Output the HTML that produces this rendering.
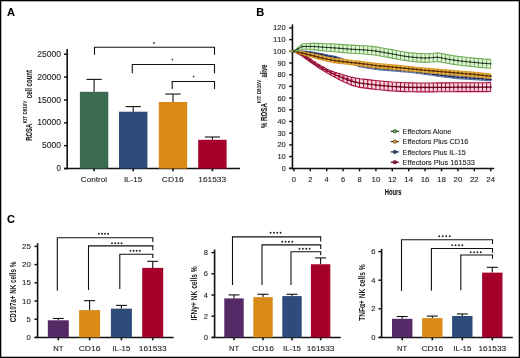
<!DOCTYPE html>
<html><head><meta charset="utf-8"><style>
html,body{margin:0;padding:0;background:#fff;}
svg{display:block;font-family:"Liberation Sans", sans-serif;will-change:transform;}
</style></head><body>
<svg width="520" height="358" viewBox="0 0 520 358">
<rect width="520" height="358" fill="#fff"/>
<text x="7.00" y="16.00" font-size="11" text-anchor="start" fill="#000" font-weight="bold" stroke="#000" stroke-width="0.1">A</text>
<line x1="67.20" y1="49.00" x2="67.20" y2="169.30" stroke="#111" stroke-width="1.6"/>
<line x1="64.00" y1="168.55" x2="240.00" y2="168.55" stroke="#111" stroke-width="1.6"/>
<line x1="64.00" y1="168.55" x2="67.20" y2="168.55" stroke="#111" stroke-width="1.45"/>
<text x="56.55" y="171.20" font-size="8.2" text-anchor="start" fill="#222" font-weight="normal" stroke="#222" stroke-width="0.1" textLength="4.45" lengthAdjust="spacingAndGlyphs">0</text>
<line x1="64.00" y1="145.68" x2="67.20" y2="145.68" stroke="#111" stroke-width="1.45"/>
<text x="42.00" y="148.33" font-size="8.2" text-anchor="start" fill="#222" font-weight="normal" stroke="#222" stroke-width="0.1" textLength="19.00" lengthAdjust="spacingAndGlyphs">5000</text>
<line x1="64.00" y1="122.81" x2="67.20" y2="122.81" stroke="#111" stroke-width="1.45"/>
<text x="37.15" y="125.46" font-size="8.2" text-anchor="start" fill="#222" font-weight="normal" stroke="#222" stroke-width="0.1" textLength="23.85" lengthAdjust="spacingAndGlyphs">10000</text>
<line x1="64.00" y1="99.94" x2="67.20" y2="99.94" stroke="#111" stroke-width="1.45"/>
<text x="37.15" y="102.59" font-size="8.2" text-anchor="start" fill="#222" font-weight="normal" stroke="#222" stroke-width="0.1" textLength="23.85" lengthAdjust="spacingAndGlyphs">15000</text>
<line x1="64.00" y1="77.07" x2="67.20" y2="77.07" stroke="#111" stroke-width="1.45"/>
<text x="37.15" y="79.72" font-size="8.2" text-anchor="start" fill="#222" font-weight="normal" stroke="#222" stroke-width="0.1" textLength="23.85" lengthAdjust="spacingAndGlyphs">20000</text>
<line x1="64.00" y1="54.20" x2="67.20" y2="54.20" stroke="#111" stroke-width="1.45"/>
<text x="37.15" y="56.85" font-size="8.2" text-anchor="start" fill="#222" font-weight="normal" stroke="#222" stroke-width="0.1" textLength="23.85" lengthAdjust="spacingAndGlyphs">25000</text>
<line x1="94.10" y1="91.80" x2="94.10" y2="79.40" stroke="#111" stroke-width="1.1"/>
<line x1="86.50" y1="79.40" x2="101.70" y2="79.40" stroke="#111" stroke-width="1.1"/>
<rect x="79.90" y="91.80" width="28.40" height="76.75" fill="#3a6a52"/>
<line x1="94.10" y1="168.50" x2="94.10" y2="171.20" stroke="#111" stroke-width="1.6"/>
<text x="80.75" y="182.20" font-size="8.0" text-anchor="start" fill="#222" font-weight="normal" stroke="#222" stroke-width="0.1" textLength="26.30" lengthAdjust="spacingAndGlyphs">Control</text>
<line x1="133.20" y1="111.70" x2="133.20" y2="106.60" stroke="#111" stroke-width="1.1"/>
<line x1="125.60" y1="106.60" x2="140.80" y2="106.60" stroke="#111" stroke-width="1.1"/>
<rect x="119.00" y="111.70" width="28.40" height="56.85" fill="#2e4c7a"/>
<line x1="133.20" y1="168.50" x2="133.20" y2="171.20" stroke="#111" stroke-width="1.6"/>
<text x="123.90" y="182.20" font-size="8.0" text-anchor="start" fill="#222" font-weight="normal" stroke="#222" stroke-width="0.1" textLength="18.20" lengthAdjust="spacingAndGlyphs">IL-15</text>
<line x1="173.00" y1="102.00" x2="173.00" y2="94.05" stroke="#111" stroke-width="1.1"/>
<line x1="165.40" y1="94.05" x2="180.60" y2="94.05" stroke="#111" stroke-width="1.1"/>
<rect x="158.80" y="102.00" width="28.40" height="66.55" fill="#da8a17"/>
<line x1="173.00" y1="168.50" x2="173.00" y2="171.20" stroke="#111" stroke-width="1.6"/>
<text x="161.85" y="182.20" font-size="8.0" text-anchor="start" fill="#222" font-weight="normal" stroke="#222" stroke-width="0.1" textLength="21.90" lengthAdjust="spacingAndGlyphs">CD16</text>
<line x1="212.40" y1="139.80" x2="212.40" y2="137.00" stroke="#111" stroke-width="1.1"/>
<line x1="204.80" y1="137.00" x2="220.00" y2="137.00" stroke="#111" stroke-width="1.1"/>
<rect x="198.20" y="139.80" width="28.40" height="28.75" fill="#a5002a"/>
<line x1="212.40" y1="168.50" x2="212.40" y2="171.20" stroke="#111" stroke-width="1.6"/>
<text x="198.35" y="182.20" font-size="8.0" text-anchor="start" fill="#222" font-weight="normal" stroke="#222" stroke-width="0.1" textLength="27.70" lengthAdjust="spacingAndGlyphs">161533</text>
<path d="M94.5 54.8V47.3H214.5V54.8" stroke="#111" stroke-width="1.1" fill="none"/>
<path d="M132.3 73.2V64.5H214.5V73.2" stroke="#111" stroke-width="1.1" fill="none"/>
<path d="M172.2 88.9V81.5H214.5V88.9" stroke="#111" stroke-width="1.1" fill="none"/>
<circle cx="153.9" cy="42.9" r="0.85" fill="#222"/>
<circle cx="172.4" cy="59.5" r="0.85" fill="#222"/>
<circle cx="193.6" cy="76.5" r="0.85" fill="#222"/>
<g transform="translate(31.8,140.8) rotate(-90)"><text x="0" y="0" font-size="9.5" fill="#1a1a1a" font-weight="bold" stroke="#1a1a1a" stroke-width="0.12" textLength="17.0" lengthAdjust="spacingAndGlyphs">ROSA</text><text x="17.6" y="-4.9" font-size="5.9" fill="#222" font-weight="bold" textLength="22.5" lengthAdjust="spacingAndGlyphs">KIT D816V</text><text x="42.6" y="0" font-size="9.2" fill="#1a1a1a" font-weight="bold" stroke="#1a1a1a" stroke-width="0.12" textLength="28.3" lengthAdjust="spacingAndGlyphs">cell count</text></g>
<text x="256.30" y="16.00" font-size="11" text-anchor="start" fill="#000" font-weight="bold" stroke="#000" stroke-width="0.1">B</text>
<line x1="292.45" y1="24.40" x2="292.45" y2="169.20" stroke="#111" stroke-width="1.6"/>
<line x1="289.20" y1="168.45" x2="494.20" y2="168.45" stroke="#111" stroke-width="1.6"/>
<line x1="289.20" y1="168.30" x2="292.45" y2="168.30" stroke="#111" stroke-width="1.45"/>
<text x="281.70" y="170.85" font-size="7.2" text-anchor="start" fill="#222" font-weight="normal" stroke="#222" stroke-width="0.1" textLength="4.00" lengthAdjust="spacingAndGlyphs">0</text>
<line x1="289.20" y1="156.60" x2="292.45" y2="156.60" stroke="#111" stroke-width="1.45"/>
<text x="277.40" y="159.15" font-size="7.2" text-anchor="start" fill="#222" font-weight="normal" stroke="#222" stroke-width="0.1" textLength="8.30" lengthAdjust="spacingAndGlyphs">10</text>
<line x1="289.20" y1="144.90" x2="292.45" y2="144.90" stroke="#111" stroke-width="1.45"/>
<text x="277.40" y="147.45" font-size="7.2" text-anchor="start" fill="#222" font-weight="normal" stroke="#222" stroke-width="0.1" textLength="8.30" lengthAdjust="spacingAndGlyphs">20</text>
<line x1="289.20" y1="133.20" x2="292.45" y2="133.20" stroke="#111" stroke-width="1.45"/>
<text x="277.40" y="135.75" font-size="7.2" text-anchor="start" fill="#222" font-weight="normal" stroke="#222" stroke-width="0.1" textLength="8.30" lengthAdjust="spacingAndGlyphs">30</text>
<line x1="289.20" y1="121.50" x2="292.45" y2="121.50" stroke="#111" stroke-width="1.45"/>
<text x="277.40" y="124.05" font-size="7.2" text-anchor="start" fill="#222" font-weight="normal" stroke="#222" stroke-width="0.1" textLength="8.30" lengthAdjust="spacingAndGlyphs">40</text>
<line x1="289.20" y1="109.80" x2="292.45" y2="109.80" stroke="#111" stroke-width="1.45"/>
<text x="277.40" y="112.35" font-size="7.2" text-anchor="start" fill="#222" font-weight="normal" stroke="#222" stroke-width="0.1" textLength="8.30" lengthAdjust="spacingAndGlyphs">50</text>
<line x1="289.20" y1="98.10" x2="292.45" y2="98.10" stroke="#111" stroke-width="1.45"/>
<text x="277.40" y="100.65" font-size="7.2" text-anchor="start" fill="#222" font-weight="normal" stroke="#222" stroke-width="0.1" textLength="8.30" lengthAdjust="spacingAndGlyphs">60</text>
<line x1="289.20" y1="86.40" x2="292.45" y2="86.40" stroke="#111" stroke-width="1.45"/>
<text x="277.40" y="88.95" font-size="7.2" text-anchor="start" fill="#222" font-weight="normal" stroke="#222" stroke-width="0.1" textLength="8.30" lengthAdjust="spacingAndGlyphs">70</text>
<line x1="289.20" y1="74.70" x2="292.45" y2="74.70" stroke="#111" stroke-width="1.45"/>
<text x="277.40" y="77.25" font-size="7.2" text-anchor="start" fill="#222" font-weight="normal" stroke="#222" stroke-width="0.1" textLength="8.30" lengthAdjust="spacingAndGlyphs">80</text>
<line x1="289.20" y1="63.00" x2="292.45" y2="63.00" stroke="#111" stroke-width="1.45"/>
<text x="277.40" y="65.55" font-size="7.2" text-anchor="start" fill="#222" font-weight="normal" stroke="#222" stroke-width="0.1" textLength="8.30" lengthAdjust="spacingAndGlyphs">90</text>
<line x1="289.20" y1="51.30" x2="292.45" y2="51.30" stroke="#111" stroke-width="1.45"/>
<text x="273.10" y="53.85" font-size="7.2" text-anchor="start" fill="#222" font-weight="normal" stroke="#222" stroke-width="0.1" textLength="12.60" lengthAdjust="spacingAndGlyphs">100</text>
<line x1="289.20" y1="39.60" x2="292.45" y2="39.60" stroke="#111" stroke-width="1.45"/>
<text x="273.10" y="42.15" font-size="7.2" text-anchor="start" fill="#222" font-weight="normal" stroke="#222" stroke-width="0.1" textLength="12.60" lengthAdjust="spacingAndGlyphs">110</text>
<line x1="289.20" y1="27.90" x2="292.45" y2="27.90" stroke="#111" stroke-width="1.45"/>
<text x="273.10" y="30.45" font-size="7.2" text-anchor="start" fill="#222" font-weight="normal" stroke="#222" stroke-width="0.1" textLength="12.60" lengthAdjust="spacingAndGlyphs">120</text>
<line x1="293.90" y1="168.45" x2="293.90" y2="171.30" stroke="#111" stroke-width="1.45"/>
<text x="291.80" y="181.80" font-size="7.6" text-anchor="start" fill="#222" font-weight="normal" stroke="#222" stroke-width="0.1" textLength="4.20" lengthAdjust="spacingAndGlyphs">0</text>
<line x1="310.30" y1="168.45" x2="310.30" y2="171.30" stroke="#111" stroke-width="1.45"/>
<text x="308.20" y="181.80" font-size="7.6" text-anchor="start" fill="#222" font-weight="normal" stroke="#222" stroke-width="0.1" textLength="4.20" lengthAdjust="spacingAndGlyphs">2</text>
<line x1="326.70" y1="168.45" x2="326.70" y2="171.30" stroke="#111" stroke-width="1.45"/>
<text x="324.60" y="181.80" font-size="7.6" text-anchor="start" fill="#222" font-weight="normal" stroke="#222" stroke-width="0.1" textLength="4.20" lengthAdjust="spacingAndGlyphs">4</text>
<line x1="343.10" y1="168.45" x2="343.10" y2="171.30" stroke="#111" stroke-width="1.45"/>
<text x="341.00" y="181.80" font-size="7.6" text-anchor="start" fill="#222" font-weight="normal" stroke="#222" stroke-width="0.1" textLength="4.20" lengthAdjust="spacingAndGlyphs">6</text>
<line x1="359.50" y1="168.45" x2="359.50" y2="171.30" stroke="#111" stroke-width="1.45"/>
<text x="357.40" y="181.80" font-size="7.6" text-anchor="start" fill="#222" font-weight="normal" stroke="#222" stroke-width="0.1" textLength="4.20" lengthAdjust="spacingAndGlyphs">8</text>
<line x1="375.90" y1="168.45" x2="375.90" y2="171.30" stroke="#111" stroke-width="1.45"/>
<text x="371.50" y="181.80" font-size="7.6" text-anchor="start" fill="#222" font-weight="normal" stroke="#222" stroke-width="0.1" textLength="8.80" lengthAdjust="spacingAndGlyphs">10</text>
<line x1="392.30" y1="168.45" x2="392.30" y2="171.30" stroke="#111" stroke-width="1.45"/>
<text x="387.90" y="181.80" font-size="7.6" text-anchor="start" fill="#222" font-weight="normal" stroke="#222" stroke-width="0.1" textLength="8.80" lengthAdjust="spacingAndGlyphs">12</text>
<line x1="408.70" y1="168.45" x2="408.70" y2="171.30" stroke="#111" stroke-width="1.45"/>
<text x="404.30" y="181.80" font-size="7.6" text-anchor="start" fill="#222" font-weight="normal" stroke="#222" stroke-width="0.1" textLength="8.80" lengthAdjust="spacingAndGlyphs">14</text>
<line x1="425.10" y1="168.45" x2="425.10" y2="171.30" stroke="#111" stroke-width="1.45"/>
<text x="420.70" y="181.80" font-size="7.6" text-anchor="start" fill="#222" font-weight="normal" stroke="#222" stroke-width="0.1" textLength="8.80" lengthAdjust="spacingAndGlyphs">16</text>
<line x1="441.50" y1="168.45" x2="441.50" y2="171.30" stroke="#111" stroke-width="1.45"/>
<text x="437.10" y="181.80" font-size="7.6" text-anchor="start" fill="#222" font-weight="normal" stroke="#222" stroke-width="0.1" textLength="8.80" lengthAdjust="spacingAndGlyphs">18</text>
<line x1="457.90" y1="168.45" x2="457.90" y2="171.30" stroke="#111" stroke-width="1.45"/>
<text x="453.50" y="181.80" font-size="7.6" text-anchor="start" fill="#222" font-weight="normal" stroke="#222" stroke-width="0.1" textLength="8.80" lengthAdjust="spacingAndGlyphs">20</text>
<line x1="474.30" y1="168.45" x2="474.30" y2="171.30" stroke="#111" stroke-width="1.45"/>
<text x="469.90" y="181.80" font-size="7.6" text-anchor="start" fill="#222" font-weight="normal" stroke="#222" stroke-width="0.1" textLength="8.80" lengthAdjust="spacingAndGlyphs">22</text>
<line x1="490.70" y1="168.45" x2="490.70" y2="171.30" stroke="#111" stroke-width="1.45"/>
<text x="486.30" y="181.80" font-size="7.6" text-anchor="start" fill="#222" font-weight="normal" stroke="#222" stroke-width="0.1" textLength="8.80" lengthAdjust="spacingAndGlyphs">24</text>
<text x="384.80" y="195.20" font-size="8.7" text-anchor="start" fill="#111" font-weight="bold" stroke="#111" stroke-width="0.1" textLength="16.80" lengthAdjust="spacingAndGlyphs">Hours</text>
<g transform="translate(266.5,128.1) rotate(-90)"><text x="0" y="0" font-size="9.3" fill="#1a1a1a" font-weight="bold" stroke="#1a1a1a" stroke-width="0.12" textLength="25.0" lengthAdjust="spacingAndGlyphs">% ROSA</text><text x="24.9" y="-5.3" font-size="5.9" fill="#222" font-weight="bold" textLength="23.3" lengthAdjust="spacingAndGlyphs">KIT D816V</text><text x="50.6" y="0" font-size="9.3" fill="#1a1a1a" font-weight="bold" stroke="#1a1a1a" stroke-width="0.12" textLength="13.0" lengthAdjust="spacingAndGlyphs">alive</text></g>
<polygon points="293.90,50.95 298.00,52.06 302.10,53.17 306.20,56.04 310.30,58.91 314.40,61.65 318.50,64.40 322.60,66.69 326.70,68.97 330.80,70.66 334.90,72.36 339.00,73.59 343.10,74.82 347.20,75.99 351.30,77.16 355.40,77.92 359.50,78.68 363.60,79.15 367.70,79.61 371.80,80.08 375.90,80.55 380.00,80.93 384.10,81.31 388.20,81.69 392.30,82.07 396.40,82.28 400.50,82.48 404.60,82.69 408.70,82.89 412.80,82.92 416.90,82.95 421.00,82.98 425.10,83.01 429.20,82.98 433.30,82.95 437.40,82.92 441.50,82.89 445.60,82.86 449.70,82.83 453.80,82.80 457.90,82.77 462.00,82.77 466.10,82.77 470.20,82.77 474.30,82.77 478.40,82.74 482.50,82.71 486.60,82.69 490.70,82.66 490.70,91.55 486.60,91.58 482.50,91.61 478.40,91.64 474.30,91.67 470.20,91.67 466.10,91.67 462.00,91.67 457.90,91.67 453.80,91.69 449.70,91.72 445.60,91.75 441.50,91.78 437.40,91.81 433.30,91.84 429.20,91.87 425.10,91.90 421.00,91.87 416.90,91.84 412.80,91.81 408.70,91.78 404.60,91.58 400.50,91.37 396.40,91.17 392.30,90.96 388.20,90.58 384.10,90.20 380.00,89.82 375.90,89.44 371.80,88.92 367.70,88.39 363.60,87.86 359.50,87.34 355.40,86.22 351.30,85.11 347.20,83.36 343.10,81.60 339.00,79.44 334.90,77.27 330.80,74.99 326.70,72.71 322.60,70.20 318.50,67.68 314.40,64.81 310.30,61.95 306.20,58.96 302.10,55.98 298.00,53.82 293.90,51.65" fill="#f4d2dc" stroke="none"/>
<polyline points="293.90,50.95 298.00,52.06 302.10,53.17 306.20,56.04 310.30,58.91 314.40,61.65 318.50,64.40 322.60,66.69 326.70,68.97 330.80,70.66 334.90,72.36 339.00,73.59 343.10,74.82 347.20,75.99 351.30,77.16 355.40,77.92 359.50,78.68 363.60,79.15 367.70,79.61 371.80,80.08 375.90,80.55 380.00,80.93 384.10,81.31 388.20,81.69 392.30,82.07 396.40,82.28 400.50,82.48 404.60,82.69 408.70,82.89 412.80,82.92 416.90,82.95 421.00,82.98 425.10,83.01 429.20,82.98 433.30,82.95 437.40,82.92 441.50,82.89 445.60,82.86 449.70,82.83 453.80,82.80 457.90,82.77 462.00,82.77 466.10,82.77 470.20,82.77 474.30,82.77 478.40,82.74 482.50,82.71 486.60,82.69 490.70,82.66" fill="none" stroke="#a8123e" stroke-width="1.1"/>
<polyline points="293.90,51.65 298.00,53.82 302.10,55.98 306.20,58.96 310.30,61.95 314.40,64.81 318.50,67.68 322.60,70.20 326.70,72.71 330.80,74.99 334.90,77.27 339.00,79.44 343.10,81.60 347.20,83.36 351.30,85.11 355.40,86.22 359.50,87.34 363.60,87.86 367.70,88.39 371.80,88.92 375.90,89.44 380.00,89.82 384.10,90.20 388.20,90.58 392.30,90.96 396.40,91.17 400.50,91.37 404.60,91.58 408.70,91.78 412.80,91.81 416.90,91.84 421.00,91.87 425.10,91.90 429.20,91.87 433.30,91.84 437.40,91.81 441.50,91.78 445.60,91.75 449.70,91.72 453.80,91.69 457.90,91.67 462.00,91.67 466.10,91.67 470.20,91.67 474.30,91.67 478.40,91.64 482.50,91.61 486.60,91.58 490.70,91.55" fill="none" stroke="#a8123e" stroke-width="1.1"/>
<path d="M293.90 50.95V51.65M298.00 52.06V53.82M302.10 53.17V55.98M306.20 56.04V58.96M310.30 58.91V61.95M314.40 61.65V64.81M318.50 64.40V67.68M322.60 66.69V70.20M326.70 68.97V72.71M330.80 70.66V74.99M334.90 72.36V77.27M339.00 73.59V79.44M343.10 74.82V81.60M347.20 75.99V83.36M351.30 77.16V85.11M355.40 77.92V86.22M359.50 78.68V87.34M363.60 79.15V87.86M367.70 79.61V88.39M371.80 80.08V88.92M375.90 80.55V89.44M380.00 80.93V89.82M384.10 81.31V90.20M388.20 81.69V90.58M392.30 82.07V90.96M396.40 82.28V91.17M400.50 82.48V91.37M404.60 82.69V91.58M408.70 82.89V91.78M412.80 82.92V91.81M416.90 82.95V91.84M421.00 82.98V91.87M425.10 83.01V91.90M429.20 82.98V91.87M433.30 82.95V91.84M437.40 82.92V91.81M441.50 82.89V91.78M445.60 82.86V91.75M449.70 82.83V91.72M453.80 82.80V91.69M457.90 82.77V91.67M462.00 82.77V91.67M466.10 82.77V91.67M470.20 82.77V91.67M474.30 82.77V91.67M478.40 82.74V91.64M482.50 82.71V91.61M486.60 82.69V91.58M490.70 82.66V91.55" stroke="#a8123e" stroke-width="1.0" fill="none"/>
<path d="M289.40 51.30H295.90" stroke="#a8123e" stroke-width="1.6"/>
<polyline points="293.90,51.30 298.00,52.94 302.10,54.58 306.20,57.50 310.30,60.43 314.40,63.23 318.50,66.04 322.60,68.44 326.70,70.84 330.80,72.83 334.90,74.82 339.00,76.51 343.10,78.21 347.20,79.67 351.30,81.14 355.40,82.07 359.50,83.01 363.60,83.50 367.70,84.00 371.80,84.50 375.90,85.00 380.00,85.38 384.10,85.76 388.20,86.14 392.30,86.52 396.40,86.72 400.50,86.93 404.60,87.13 408.70,87.34 412.80,87.37 416.90,87.39 421.00,87.42 425.10,87.45 429.20,87.42 433.30,87.39 437.40,87.37 441.50,87.34 445.60,87.31 449.70,87.28 453.80,87.25 457.90,87.22 462.00,87.22 466.10,87.22 470.20,87.22 474.30,87.22 478.40,87.19 482.50,87.16 486.60,87.13 490.70,87.10" fill="none" stroke="#6a0020" stroke-width="1.2"/>
<path d="M291.90 49.70L295.90 49.70L293.90 53.10Z" fill="#9a0a34"/>
<path d="M296.00 51.34L300.00 51.34L298.00 54.74Z" fill="#9a0a34"/>
<path d="M300.10 52.98L304.10 52.98L302.10 56.38Z" fill="#9a0a34"/>
<path d="M304.20 55.90L308.20 55.90L306.20 59.30Z" fill="#9a0a34"/>
<path d="M308.30 58.83L312.30 58.83L310.30 62.23Z" fill="#9a0a34"/>
<path d="M312.40 61.63L316.40 61.63L314.40 65.03Z" fill="#9a0a34"/>
<path d="M316.50 64.44L320.50 64.44L318.50 67.84Z" fill="#9a0a34"/>
<path d="M320.60 66.84L324.60 66.84L322.60 70.24Z" fill="#9a0a34"/>
<path d="M324.70 69.24L328.70 69.24L326.70 72.64Z" fill="#9a0a34"/>
<path d="M328.80 71.23L332.80 71.23L330.80 74.63Z" fill="#9a0a34"/>
<path d="M332.90 73.22L336.90 73.22L334.90 76.62Z" fill="#9a0a34"/>
<path d="M337.00 74.91L341.00 74.91L339.00 78.31Z" fill="#9a0a34"/>
<path d="M341.10 76.61L345.10 76.61L343.10 80.01Z" fill="#9a0a34"/>
<path d="M345.20 78.07L349.20 78.07L347.20 81.47Z" fill="#9a0a34"/>
<path d="M349.30 79.54L353.30 79.54L351.30 82.94Z" fill="#9a0a34"/>
<path d="M354.10 82.07L355.40 80.77L356.70 82.07L355.40 83.37Z" fill="#6a0020"/>
<path d="M358.20 83.01L359.50 81.71L360.80 83.01L359.50 84.31Z" fill="#6a0020"/>
<path d="M362.30 83.50L363.60 82.20L364.90 83.50L363.60 84.80Z" fill="#6a0020"/>
<path d="M366.40 84.00L367.70 82.70L369.00 84.00L367.70 85.30Z" fill="#6a0020"/>
<path d="M370.50 84.50L371.80 83.20L373.10 84.50L371.80 85.80Z" fill="#6a0020"/>
<path d="M374.60 85.00L375.90 83.70L377.20 85.00L375.90 86.30Z" fill="#6a0020"/>
<path d="M378.70 85.38L380.00 84.08L381.30 85.38L380.00 86.68Z" fill="#6a0020"/>
<path d="M382.80 85.76L384.10 84.46L385.40 85.76L384.10 87.06Z" fill="#6a0020"/>
<path d="M386.90 86.14L388.20 84.84L389.50 86.14L388.20 87.44Z" fill="#6a0020"/>
<path d="M391.00 86.52L392.30 85.22L393.60 86.52L392.30 87.82Z" fill="#6a0020"/>
<path d="M395.10 86.72L396.40 85.42L397.70 86.72L396.40 88.02Z" fill="#6a0020"/>
<path d="M399.20 86.93L400.50 85.63L401.80 86.93L400.50 88.23Z" fill="#6a0020"/>
<path d="M403.30 87.13L404.60 85.83L405.90 87.13L404.60 88.43Z" fill="#6a0020"/>
<path d="M407.40 87.34L408.70 86.04L410.00 87.34L408.70 88.64Z" fill="#6a0020"/>
<path d="M411.50 87.37L412.80 86.07L414.10 87.37L412.80 88.67Z" fill="#6a0020"/>
<path d="M415.60 87.39L416.90 86.09L418.20 87.39L416.90 88.69Z" fill="#6a0020"/>
<path d="M419.70 87.42L421.00 86.12L422.30 87.42L421.00 88.72Z" fill="#6a0020"/>
<path d="M423.80 87.45L425.10 86.15L426.40 87.45L425.10 88.75Z" fill="#6a0020"/>
<path d="M427.90 87.42L429.20 86.12L430.50 87.42L429.20 88.72Z" fill="#6a0020"/>
<path d="M432.00 87.39L433.30 86.09L434.60 87.39L433.30 88.69Z" fill="#6a0020"/>
<path d="M436.10 87.37L437.40 86.07L438.70 87.37L437.40 88.67Z" fill="#6a0020"/>
<path d="M440.20 87.34L441.50 86.04L442.80 87.34L441.50 88.64Z" fill="#6a0020"/>
<path d="M444.30 87.31L445.60 86.01L446.90 87.31L445.60 88.61Z" fill="#6a0020"/>
<path d="M448.40 87.28L449.70 85.98L451.00 87.28L449.70 88.58Z" fill="#6a0020"/>
<path d="M452.50 87.25L453.80 85.95L455.10 87.25L453.80 88.55Z" fill="#6a0020"/>
<path d="M456.60 87.22L457.90 85.92L459.20 87.22L457.90 88.52Z" fill="#6a0020"/>
<path d="M460.70 87.22L462.00 85.92L463.30 87.22L462.00 88.52Z" fill="#6a0020"/>
<path d="M464.80 87.22L466.10 85.92L467.40 87.22L466.10 88.52Z" fill="#6a0020"/>
<path d="M468.90 87.22L470.20 85.92L471.50 87.22L470.20 88.52Z" fill="#6a0020"/>
<path d="M473.00 87.22L474.30 85.92L475.60 87.22L474.30 88.52Z" fill="#6a0020"/>
<path d="M477.10 87.19L478.40 85.89L479.70 87.19L478.40 88.49Z" fill="#6a0020"/>
<path d="M481.20 87.16L482.50 85.86L483.80 87.16L482.50 88.46Z" fill="#6a0020"/>
<path d="M485.30 87.13L486.60 85.83L487.90 87.13L486.60 88.43Z" fill="#6a0020"/>
<path d="M489.40 87.10L490.70 85.80L492.00 87.10L490.70 88.40Z" fill="#6a0020"/>
<polygon points="293.90,50.95 298.00,50.95 302.10,50.95 306.20,51.24 310.30,51.53 314.40,52.29 318.50,53.06 322.60,53.87 326.70,54.69 330.80,55.51 334.90,56.33 339.00,57.62 343.10,58.91 347.20,60.25 351.30,61.60 355.40,62.82 359.50,64.05 363.60,64.73 367.70,65.40 371.80,66.07 375.90,66.74 380.00,67.10 384.10,67.45 388.20,67.80 392.30,68.15 396.40,68.47 400.50,68.79 404.60,69.11 408.70,69.44 412.80,69.96 416.90,70.49 421.00,71.01 425.10,71.54 429.20,72.13 433.30,72.71 437.40,73.30 441.50,73.88 445.60,74.38 449.70,74.88 453.80,75.37 457.90,75.87 462.00,76.10 466.10,76.34 470.20,76.57 474.30,76.81 478.40,77.16 482.50,77.51 486.60,77.86 490.70,78.21 490.70,81.02 486.60,80.67 482.50,80.32 478.40,79.97 474.30,79.61 470.20,79.38 466.10,79.15 462.00,78.91 457.90,78.68 453.80,78.18 449.70,77.68 445.60,77.19 441.50,76.69 437.40,76.10 433.30,75.52 429.20,74.93 425.10,74.35 421.00,73.82 416.90,73.30 412.80,72.77 408.70,72.24 404.60,71.92 400.50,71.60 396.40,71.28 392.30,70.96 388.20,70.61 384.10,70.25 380.00,69.90 375.90,69.55 371.80,68.82 367.70,68.09 363.60,67.36 359.50,66.63 355.40,65.28 351.30,63.94 347.20,62.47 343.10,61.01 339.00,59.72 334.90,58.44 330.80,57.62 326.70,56.80 322.60,55.98 318.50,55.16 314.40,54.28 310.30,53.41 306.20,53.00 302.10,52.59 298.00,52.12 293.90,51.65" fill="#d6def0" stroke="none"/>
<polyline points="293.90,50.95 298.00,50.95 302.10,50.95 306.20,51.24 310.30,51.53 314.40,52.29 318.50,53.06 322.60,53.87 326.70,54.69 330.80,55.51 334.90,56.33 339.00,57.62 343.10,58.91 347.20,60.25 351.30,61.60 355.40,62.82 359.50,64.05 363.60,64.73 367.70,65.40 371.80,66.07 375.90,66.74 380.00,67.10 384.10,67.45 388.20,67.80 392.30,68.15 396.40,68.47 400.50,68.79 404.60,69.11 408.70,69.44 412.80,69.96 416.90,70.49 421.00,71.01 425.10,71.54 429.20,72.13 433.30,72.71 437.40,73.30 441.50,73.88 445.60,74.38 449.70,74.88 453.80,75.37 457.90,75.87 462.00,76.10 466.10,76.34 470.20,76.57 474.30,76.81 478.40,77.16 482.50,77.51 486.60,77.86 490.70,78.21" fill="none" stroke="#5a70a6" stroke-width="1.1"/>
<polyline points="293.90,51.65 298.00,52.12 302.10,52.59 306.20,53.00 310.30,53.41 314.40,54.28 318.50,55.16 322.60,55.98 326.70,56.80 330.80,57.62 334.90,58.44 339.00,59.72 343.10,61.01 347.20,62.47 351.30,63.94 355.40,65.28 359.50,66.63 363.60,67.36 367.70,68.09 371.80,68.82 375.90,69.55 380.00,69.90 384.10,70.25 388.20,70.61 392.30,70.96 396.40,71.28 400.50,71.60 404.60,71.92 408.70,72.24 412.80,72.77 416.90,73.30 421.00,73.82 425.10,74.35 429.20,74.93 433.30,75.52 437.40,76.10 441.50,76.69 445.60,77.19 449.70,77.68 453.80,78.18 457.90,78.68 462.00,78.91 466.10,79.15 470.20,79.38 474.30,79.61 478.40,79.97 482.50,80.32 486.60,80.67 490.70,81.02" fill="none" stroke="#5a70a6" stroke-width="1.1"/>
<path d="M293.90 50.95V51.65M298.00 50.95V52.12M302.10 50.95V52.59M306.20 51.24V53.00M310.30 51.53V53.41M314.40 52.29V54.28M318.50 53.06V55.16M322.60 53.87V55.98M326.70 54.69V56.80M330.80 55.51V57.62M334.90 56.33V58.44M339.00 57.62V59.72M343.10 58.91V61.01M347.20 60.25V62.47M351.30 61.60V63.94M355.40 62.82V65.28M359.50 64.05V66.63M363.60 64.73V67.36M367.70 65.40V68.09M371.80 66.07V68.82M375.90 66.74V69.55M380.00 67.10V69.90M384.10 67.45V70.25M388.20 67.80V70.61M392.30 68.15V70.96M396.40 68.47V71.28M400.50 68.79V71.60M404.60 69.11V71.92M408.70 69.44V72.24M412.80 69.96V72.77M416.90 70.49V73.30M421.00 71.01V73.82M425.10 71.54V74.35M429.20 72.13V74.93M433.30 72.71V75.52M437.40 73.30V76.10M441.50 73.88V76.69M445.60 74.38V77.19M449.70 74.88V77.68M453.80 75.37V78.18M457.90 75.87V78.68M462.00 76.10V78.91M466.10 76.34V79.15M470.20 76.57V79.38M474.30 76.81V79.61M478.40 77.16V79.97M482.50 77.51V80.32M486.60 77.86V80.67M490.70 78.21V81.02" stroke="#5a70a6" stroke-width="1.0" fill="none"/>
<path d="M289.40 51.30H295.90" stroke="#5a70a6" stroke-width="1.6"/>
<polyline points="293.90,51.30 298.00,51.53 302.10,51.77 306.20,52.12 310.30,52.47 314.40,53.29 318.50,54.11 322.60,54.93 326.70,55.75 330.80,56.57 334.90,57.38 339.00,58.67 343.10,59.96 347.20,61.36 351.30,62.77 355.40,64.05 359.50,65.34 363.60,66.04 367.70,66.74 371.80,67.45 375.90,68.15 380.00,68.50 384.10,68.85 388.20,69.20 392.30,69.55 396.40,69.87 400.50,70.20 404.60,70.52 408.70,70.84 412.80,71.37 416.90,71.89 421.00,72.42 425.10,72.95 429.20,73.53 433.30,74.12 437.40,74.70 441.50,75.29 445.60,75.78 449.70,76.28 453.80,76.78 457.90,77.27 462.00,77.51 466.10,77.74 470.20,77.98 474.30,78.21 478.40,78.56 482.50,78.91 486.60,79.26 490.70,79.61" fill="none" stroke="#1e2c58" stroke-width="1.2"/>
<path d="M292.60 51.30L293.90 50.00L295.20 51.30L293.90 52.60Z" fill="#1e2c58"/>
<path d="M296.70 51.53L298.00 50.23L299.30 51.53L298.00 52.83Z" fill="#1e2c58"/>
<path d="M300.80 51.77L302.10 50.47L303.40 51.77L302.10 53.07Z" fill="#1e2c58"/>
<path d="M304.90 52.12L306.20 50.82L307.50 52.12L306.20 53.42Z" fill="#1e2c58"/>
<path d="M309.00 52.47L310.30 51.17L311.60 52.47L310.30 53.77Z" fill="#1e2c58"/>
<path d="M313.10 53.29L314.40 51.99L315.70 53.29L314.40 54.59Z" fill="#1e2c58"/>
<path d="M317.20 54.11L318.50 52.81L319.80 54.11L318.50 55.41Z" fill="#1e2c58"/>
<path d="M321.30 54.93L322.60 53.63L323.90 54.93L322.60 56.23Z" fill="#1e2c58"/>
<path d="M325.40 55.75L326.70 54.45L328.00 55.75L326.70 57.05Z" fill="#1e2c58"/>
<path d="M329.50 56.57L330.80 55.27L332.10 56.57L330.80 57.87Z" fill="#1e2c58"/>
<path d="M333.60 57.38L334.90 56.08L336.20 57.38L334.90 58.68Z" fill="#1e2c58"/>
<path d="M337.70 58.67L339.00 57.37L340.30 58.67L339.00 59.97Z" fill="#1e2c58"/>
<path d="M341.80 59.96L343.10 58.66L344.40 59.96L343.10 61.26Z" fill="#1e2c58"/>
<path d="M345.90 61.36L347.20 60.06L348.50 61.36L347.20 62.66Z" fill="#1e2c58"/>
<path d="M350.00 62.77L351.30 61.47L352.60 62.77L351.30 64.07Z" fill="#1e2c58"/>
<path d="M354.10 64.05L355.40 62.75L356.70 64.05L355.40 65.35Z" fill="#1e2c58"/>
<path d="M358.20 65.34L359.50 64.04L360.80 65.34L359.50 66.64Z" fill="#1e2c58"/>
<path d="M362.30 66.04L363.60 64.74L364.90 66.04L363.60 67.34Z" fill="#1e2c58"/>
<path d="M366.40 66.74L367.70 65.44L369.00 66.74L367.70 68.04Z" fill="#1e2c58"/>
<path d="M370.50 67.45L371.80 66.15L373.10 67.45L371.80 68.75Z" fill="#1e2c58"/>
<path d="M374.60 68.15L375.90 66.85L377.20 68.15L375.90 69.45Z" fill="#1e2c58"/>
<path d="M378.70 68.50L380.00 67.20L381.30 68.50L380.00 69.80Z" fill="#1e2c58"/>
<path d="M382.80 68.85L384.10 67.55L385.40 68.85L384.10 70.15Z" fill="#1e2c58"/>
<path d="M386.90 69.20L388.20 67.90L389.50 69.20L388.20 70.50Z" fill="#1e2c58"/>
<path d="M391.00 69.55L392.30 68.25L393.60 69.55L392.30 70.85Z" fill="#1e2c58"/>
<path d="M395.10 69.87L396.40 68.57L397.70 69.87L396.40 71.17Z" fill="#1e2c58"/>
<path d="M399.20 70.20L400.50 68.90L401.80 70.20L400.50 71.50Z" fill="#1e2c58"/>
<path d="M403.30 70.52L404.60 69.22L405.90 70.52L404.60 71.82Z" fill="#1e2c58"/>
<path d="M407.40 70.84L408.70 69.54L410.00 70.84L408.70 72.14Z" fill="#1e2c58"/>
<path d="M411.50 71.37L412.80 70.07L414.10 71.37L412.80 72.67Z" fill="#1e2c58"/>
<path d="M415.60 71.89L416.90 70.59L418.20 71.89L416.90 73.19Z" fill="#1e2c58"/>
<path d="M419.70 72.42L421.00 71.12L422.30 72.42L421.00 73.72Z" fill="#1e2c58"/>
<path d="M423.80 72.95L425.10 71.65L426.40 72.95L425.10 74.25Z" fill="#1e2c58"/>
<path d="M427.90 73.53L429.20 72.23L430.50 73.53L429.20 74.83Z" fill="#1e2c58"/>
<path d="M432.00 74.12L433.30 72.82L434.60 74.12L433.30 75.42Z" fill="#1e2c58"/>
<path d="M436.10 74.70L437.40 73.40L438.70 74.70L437.40 76.00Z" fill="#1e2c58"/>
<path d="M440.20 75.29L441.50 73.99L442.80 75.29L441.50 76.59Z" fill="#1e2c58"/>
<path d="M444.30 75.78L445.60 74.48L446.90 75.78L445.60 77.08Z" fill="#1e2c58"/>
<path d="M448.40 76.28L449.70 74.98L451.00 76.28L449.70 77.58Z" fill="#1e2c58"/>
<path d="M452.50 76.78L453.80 75.48L455.10 76.78L453.80 78.08Z" fill="#1e2c58"/>
<path d="M456.60 77.27L457.90 75.97L459.20 77.27L457.90 78.57Z" fill="#1e2c58"/>
<path d="M460.70 77.51L462.00 76.21L463.30 77.51L462.00 78.81Z" fill="#1e2c58"/>
<path d="M464.80 77.74L466.10 76.44L467.40 77.74L466.10 79.04Z" fill="#1e2c58"/>
<path d="M468.90 77.98L470.20 76.68L471.50 77.98L470.20 79.28Z" fill="#1e2c58"/>
<path d="M473.00 78.21L474.30 76.91L475.60 78.21L474.30 79.51Z" fill="#1e2c58"/>
<path d="M477.10 78.56L478.40 77.26L479.70 78.56L478.40 79.86Z" fill="#1e2c58"/>
<path d="M481.20 78.91L482.50 77.61L483.80 78.91L482.50 80.21Z" fill="#1e2c58"/>
<path d="M485.30 79.26L486.60 77.96L487.90 79.26L486.60 80.56Z" fill="#1e2c58"/>
<path d="M489.40 79.61L490.70 78.31L492.00 79.61L490.70 80.91Z" fill="#1e2c58"/>
<polygon points="293.90,50.95 298.00,51.36 302.10,51.77 306.20,52.53 310.30,53.29 314.40,54.23 318.50,55.16 322.60,56.04 326.70,56.92 330.80,57.68 334.90,58.44 339.00,58.91 343.10,59.37 347.20,59.84 351.30,60.31 355.40,60.72 359.50,61.13 363.60,61.68 367.70,62.24 371.80,62.80 375.90,63.35 380.00,63.70 384.10,64.05 388.20,64.40 392.30,64.76 396.40,65.16 400.50,65.57 404.60,65.98 408.70,66.39 412.80,66.80 416.90,67.21 421.00,67.62 425.10,68.03 429.20,68.38 433.30,68.73 437.40,69.08 441.50,69.44 445.60,69.79 449.70,70.14 453.80,70.49 457.90,70.84 462.00,71.19 466.10,71.54 470.20,71.89 474.30,72.24 478.40,72.65 482.50,73.06 486.60,73.47 490.70,73.88 490.70,78.33 486.60,77.92 482.50,77.51 478.40,77.10 474.30,76.69 470.20,76.34 466.10,75.99 462.00,75.64 457.90,75.29 453.80,74.93 449.70,74.58 445.60,74.23 441.50,73.88 437.40,73.53 433.30,73.18 429.20,72.83 425.10,72.48 421.00,72.07 416.90,71.66 412.80,71.25 408.70,70.84 404.60,70.43 400.50,70.02 396.40,69.61 392.30,69.20 388.20,68.85 384.10,68.50 380.00,68.15 375.90,67.80 371.80,67.24 367.70,66.69 363.60,66.13 359.50,65.57 355.40,65.16 351.30,64.76 347.20,64.29 343.10,63.82 339.00,63.35 334.90,62.88 330.80,62.01 326.70,61.13 322.60,60.13 318.50,59.14 314.40,57.97 310.30,56.80 306.20,55.69 302.10,54.58 298.00,53.11 293.90,51.65" fill="#e9b650" stroke="none"/>
<polyline points="293.90,50.95 298.00,51.36 302.10,51.77 306.20,52.53 310.30,53.29 314.40,54.23 318.50,55.16 322.60,56.04 326.70,56.92 330.80,57.68 334.90,58.44 339.00,58.91 343.10,59.37 347.20,59.84 351.30,60.31 355.40,60.72 359.50,61.13 363.60,61.68 367.70,62.24 371.80,62.80 375.90,63.35 380.00,63.70 384.10,64.05 388.20,64.40 392.30,64.76 396.40,65.16 400.50,65.57 404.60,65.98 408.70,66.39 412.80,66.80 416.90,67.21 421.00,67.62 425.10,68.03 429.20,68.38 433.30,68.73 437.40,69.08 441.50,69.44 445.60,69.79 449.70,70.14 453.80,70.49 457.90,70.84 462.00,71.19 466.10,71.54 470.20,71.89 474.30,72.24 478.40,72.65 482.50,73.06 486.60,73.47 490.70,73.88" fill="none" stroke="#d89a2c" stroke-width="1.1"/>
<polyline points="293.90,51.65 298.00,53.11 302.10,54.58 306.20,55.69 310.30,56.80 314.40,57.97 318.50,59.14 322.60,60.13 326.70,61.13 330.80,62.01 334.90,62.88 339.00,63.35 343.10,63.82 347.20,64.29 351.30,64.76 355.40,65.16 359.50,65.57 363.60,66.13 367.70,66.69 371.80,67.24 375.90,67.80 380.00,68.15 384.10,68.50 388.20,68.85 392.30,69.20 396.40,69.61 400.50,70.02 404.60,70.43 408.70,70.84 412.80,71.25 416.90,71.66 421.00,72.07 425.10,72.48 429.20,72.83 433.30,73.18 437.40,73.53 441.50,73.88 445.60,74.23 449.70,74.58 453.80,74.93 457.90,75.29 462.00,75.64 466.10,75.99 470.20,76.34 474.30,76.69 478.40,77.10 482.50,77.51 486.60,77.92 490.70,78.33" fill="none" stroke="#d89a2c" stroke-width="1.1"/>
<path d="M293.90 50.95V51.65M298.00 51.36V53.11M302.10 51.77V54.58M306.20 52.53V55.69M310.30 53.29V56.80M314.40 54.23V57.97M318.50 55.16V59.14M322.60 56.04V60.13M326.70 56.92V61.13M330.80 57.68V62.01M334.90 58.44V62.88M339.00 58.91V63.35M343.10 59.37V63.82M347.20 59.84V64.29M351.30 60.31V64.76M355.40 60.72V65.16M359.50 61.13V65.57M363.60 61.68V66.13M367.70 62.24V66.69M371.80 62.80V67.24M375.90 63.35V67.80M380.00 63.70V68.15M384.10 64.05V68.50M388.20 64.40V68.85M392.30 64.76V69.20M396.40 65.16V69.61M400.50 65.57V70.02M404.60 65.98V70.43M408.70 66.39V70.84M412.80 66.80V71.25M416.90 67.21V71.66M421.00 67.62V72.07M425.10 68.03V72.48M429.20 68.38V72.83M433.30 68.73V73.18M437.40 69.08V73.53M441.50 69.44V73.88M445.60 69.79V74.23M449.70 70.14V74.58M453.80 70.49V74.93M457.90 70.84V75.29M462.00 71.19V75.64M466.10 71.54V75.99M470.20 71.89V76.34M474.30 72.24V76.69M478.40 72.65V77.10M482.50 73.06V77.51M486.60 73.47V77.92M490.70 73.88V78.33" stroke="#d89a2c" stroke-width="1.0" fill="none"/>
<path d="M289.40 51.30H295.90" stroke="#d89a2c" stroke-width="1.6"/>
<polyline points="293.90,51.30 298.00,52.24 302.10,53.17 306.20,54.11 310.30,55.04 314.40,56.10 318.50,57.15 322.60,58.09 326.70,59.02 330.80,59.84 334.90,60.66 339.00,61.13 343.10,61.60 347.20,62.06 351.30,62.53 355.40,62.94 359.50,63.35 363.60,63.91 367.70,64.46 371.80,65.02 375.90,65.57 380.00,65.93 384.10,66.28 388.20,66.63 392.30,66.98 396.40,67.39 400.50,67.80 404.60,68.21 408.70,68.62 412.80,69.03 416.90,69.44 421.00,69.84 425.10,70.25 429.20,70.61 433.30,70.96 437.40,71.31 441.50,71.66 445.60,72.01 449.70,72.36 453.80,72.71 457.90,73.06 462.00,73.41 466.10,73.76 470.20,74.12 474.30,74.47 478.40,74.88 482.50,75.29 486.60,75.69 490.70,76.10" fill="none" stroke="#5a3200" stroke-width="1.2"/>
<path d="M292.60 51.30L293.90 50.00L295.20 51.30L293.90 52.60Z" fill="#5a3200"/>
<path d="M296.70 52.24L298.00 50.94L299.30 52.24L298.00 53.54Z" fill="#5a3200"/>
<path d="M300.80 53.17L302.10 51.87L303.40 53.17L302.10 54.47Z" fill="#5a3200"/>
<path d="M304.90 54.11L306.20 52.81L307.50 54.11L306.20 55.41Z" fill="#5a3200"/>
<path d="M309.00 55.04L310.30 53.74L311.60 55.04L310.30 56.34Z" fill="#5a3200"/>
<path d="M313.10 56.10L314.40 54.80L315.70 56.10L314.40 57.40Z" fill="#5a3200"/>
<path d="M317.20 57.15L318.50 55.85L319.80 57.15L318.50 58.45Z" fill="#5a3200"/>
<path d="M321.30 58.09L322.60 56.79L323.90 58.09L322.60 59.39Z" fill="#5a3200"/>
<path d="M325.40 59.02L326.70 57.72L328.00 59.02L326.70 60.32Z" fill="#5a3200"/>
<path d="M329.50 59.84L330.80 58.54L332.10 59.84L330.80 61.14Z" fill="#5a3200"/>
<path d="M333.60 60.66L334.90 59.36L336.20 60.66L334.90 61.96Z" fill="#5a3200"/>
<path d="M337.70 61.13L339.00 59.83L340.30 61.13L339.00 62.43Z" fill="#5a3200"/>
<path d="M341.80 61.60L343.10 60.30L344.40 61.60L343.10 62.90Z" fill="#5a3200"/>
<path d="M345.90 62.06L347.20 60.76L348.50 62.06L347.20 63.36Z" fill="#5a3200"/>
<path d="M350.00 62.53L351.30 61.23L352.60 62.53L351.30 63.83Z" fill="#5a3200"/>
<path d="M354.10 62.94L355.40 61.64L356.70 62.94L355.40 64.24Z" fill="#5a3200"/>
<path d="M358.20 63.35L359.50 62.05L360.80 63.35L359.50 64.65Z" fill="#5a3200"/>
<path d="M362.30 63.91L363.60 62.61L364.90 63.91L363.60 65.21Z" fill="#5a3200"/>
<path d="M366.40 64.46L367.70 63.16L369.00 64.46L367.70 65.76Z" fill="#5a3200"/>
<path d="M370.50 65.02L371.80 63.72L373.10 65.02L371.80 66.32Z" fill="#5a3200"/>
<path d="M374.60 65.57L375.90 64.27L377.20 65.57L375.90 66.87Z" fill="#5a3200"/>
<path d="M378.70 65.93L380.00 64.63L381.30 65.93L380.00 67.23Z" fill="#5a3200"/>
<path d="M382.80 66.28L384.10 64.98L385.40 66.28L384.10 67.58Z" fill="#5a3200"/>
<path d="M386.90 66.63L388.20 65.33L389.50 66.63L388.20 67.93Z" fill="#5a3200"/>
<path d="M391.00 66.98L392.30 65.68L393.60 66.98L392.30 68.28Z" fill="#5a3200"/>
<path d="M395.10 67.39L396.40 66.09L397.70 67.39L396.40 68.69Z" fill="#5a3200"/>
<path d="M399.20 67.80L400.50 66.50L401.80 67.80L400.50 69.10Z" fill="#5a3200"/>
<path d="M403.30 68.21L404.60 66.91L405.90 68.21L404.60 69.51Z" fill="#5a3200"/>
<path d="M407.40 68.62L408.70 67.32L410.00 68.62L408.70 69.92Z" fill="#5a3200"/>
<path d="M411.50 69.03L412.80 67.73L414.10 69.03L412.80 70.33Z" fill="#5a3200"/>
<path d="M415.60 69.44L416.90 68.14L418.20 69.44L416.90 70.74Z" fill="#5a3200"/>
<path d="M419.70 69.84L421.00 68.54L422.30 69.84L421.00 71.14Z" fill="#5a3200"/>
<path d="M423.80 70.25L425.10 68.95L426.40 70.25L425.10 71.55Z" fill="#5a3200"/>
<path d="M427.90 70.61L429.20 69.31L430.50 70.61L429.20 71.91Z" fill="#5a3200"/>
<path d="M432.00 70.96L433.30 69.66L434.60 70.96L433.30 72.26Z" fill="#5a3200"/>
<path d="M436.10 71.31L437.40 70.01L438.70 71.31L437.40 72.61Z" fill="#5a3200"/>
<path d="M440.20 71.66L441.50 70.36L442.80 71.66L441.50 72.96Z" fill="#5a3200"/>
<path d="M444.30 72.01L445.60 70.71L446.90 72.01L445.60 73.31Z" fill="#5a3200"/>
<path d="M448.40 72.36L449.70 71.06L451.00 72.36L449.70 73.66Z" fill="#5a3200"/>
<path d="M452.50 72.71L453.80 71.41L455.10 72.71L453.80 74.01Z" fill="#5a3200"/>
<path d="M456.60 73.06L457.90 71.76L459.20 73.06L457.90 74.36Z" fill="#5a3200"/>
<path d="M460.70 73.41L462.00 72.11L463.30 73.41L462.00 74.71Z" fill="#5a3200"/>
<path d="M464.80 73.76L466.10 72.46L467.40 73.76L466.10 75.06Z" fill="#5a3200"/>
<path d="M468.90 74.12L470.20 72.82L471.50 74.12L470.20 75.42Z" fill="#5a3200"/>
<path d="M473.00 74.47L474.30 73.17L475.60 74.47L474.30 75.77Z" fill="#5a3200"/>
<path d="M477.10 74.88L478.40 73.58L479.70 74.88L478.40 76.18Z" fill="#5a3200"/>
<path d="M481.20 75.29L482.50 73.99L483.80 75.29L482.50 76.59Z" fill="#5a3200"/>
<path d="M485.30 75.69L486.60 74.39L487.90 75.69L486.60 76.99Z" fill="#5a3200"/>
<path d="M489.40 76.10L490.70 74.80L492.00 76.10L490.70 77.40Z" fill="#5a3200"/>
<polygon points="293.90,50.95 298.00,47.50 302.10,44.05 306.20,43.70 310.30,43.34 314.40,43.34 318.50,43.34 322.60,43.52 326.70,43.70 330.80,43.87 334.90,44.05 339.00,44.34 343.10,44.63 347.20,44.87 351.30,45.10 355.40,45.33 359.50,45.57 363.60,45.77 367.70,45.98 371.80,46.42 375.90,46.85 380.00,47.56 384.10,48.26 388.20,48.96 392.30,49.66 396.40,50.48 400.50,51.30 404.60,51.94 408.70,52.59 412.80,52.97 416.90,53.35 421.00,53.55 425.10,53.76 429.20,53.52 433.30,53.29 437.40,52.82 441.50,53.52 445.60,54.34 449.70,55.16 453.80,55.75 457.90,56.33 462.00,56.80 466.10,57.27 470.20,57.68 474.30,58.09 478.40,58.47 482.50,58.85 486.60,59.11 490.70,59.37 490.70,68.27 486.60,67.94 482.50,67.62 478.40,67.18 474.30,66.74 470.20,66.33 466.10,65.93 462.00,65.46 457.90,64.99 453.80,64.40 449.70,63.82 445.60,63.00 441.50,62.18 437.40,61.48 433.30,61.95 429.20,62.18 425.10,62.42 421.00,62.15 416.90,61.89 412.80,61.45 408.70,61.01 404.60,60.37 400.50,59.72 396.40,58.91 392.30,58.09 388.20,57.38 384.10,56.68 380.00,55.98 375.90,55.28 371.80,54.78 367.70,54.28 363.60,54.02 359.50,53.76 355.40,53.52 351.30,53.29 347.20,52.94 343.10,52.59 339.00,52.18 334.90,51.77 330.80,51.48 326.70,51.18 322.60,50.77 318.50,50.36 314.40,49.90 310.30,49.43 306.20,49.31 302.10,49.19 298.00,50.42 293.90,51.65" fill="#e2f2d6" stroke="none"/>
<polyline points="293.90,50.95 298.00,47.50 302.10,44.05 306.20,43.70 310.30,43.34 314.40,43.34 318.50,43.34 322.60,43.52 326.70,43.70 330.80,43.87 334.90,44.05 339.00,44.34 343.10,44.63 347.20,44.87 351.30,45.10 355.40,45.33 359.50,45.57 363.60,45.77 367.70,45.98 371.80,46.42 375.90,46.85 380.00,47.56 384.10,48.26 388.20,48.96 392.30,49.66 396.40,50.48 400.50,51.30 404.60,51.94 408.70,52.59 412.80,52.97 416.90,53.35 421.00,53.55 425.10,53.76 429.20,53.52 433.30,53.29 437.40,52.82 441.50,53.52 445.60,54.34 449.70,55.16 453.80,55.75 457.90,56.33 462.00,56.80 466.10,57.27 470.20,57.68 474.30,58.09 478.40,58.47 482.50,58.85 486.60,59.11 490.70,59.37" fill="none" stroke="#6eae5a" stroke-width="1.1"/>
<polyline points="293.90,51.65 298.00,50.42 302.10,49.19 306.20,49.31 310.30,49.43 314.40,49.90 318.50,50.36 322.60,50.77 326.70,51.18 330.80,51.48 334.90,51.77 339.00,52.18 343.10,52.59 347.20,52.94 351.30,53.29 355.40,53.52 359.50,53.76 363.60,54.02 367.70,54.28 371.80,54.78 375.90,55.28 380.00,55.98 384.10,56.68 388.20,57.38 392.30,58.09 396.40,58.91 400.50,59.72 404.60,60.37 408.70,61.01 412.80,61.45 416.90,61.89 421.00,62.15 425.10,62.42 429.20,62.18 433.30,61.95 437.40,61.48 441.50,62.18 445.60,63.00 449.70,63.82 453.80,64.40 457.90,64.99 462.00,65.46 466.10,65.93 470.20,66.33 474.30,66.74 478.40,67.18 482.50,67.62 486.60,67.94 490.70,68.27" fill="none" stroke="#6eae5a" stroke-width="1.1"/>
<path d="M293.90 50.95V51.65M298.00 47.50V50.42M302.10 44.05V49.19M306.20 43.70V49.31M310.30 43.34V49.43M314.40 43.34V49.90M318.50 43.34V50.36M322.60 43.52V50.77M326.70 43.70V51.18M330.80 43.87V51.48M334.90 44.05V51.77M339.00 44.34V52.18M343.10 44.63V52.59M347.20 44.87V52.94M351.30 45.10V53.29M355.40 45.33V53.52M359.50 45.57V53.76M363.60 45.77V54.02M367.70 45.98V54.28M371.80 46.42V54.78M375.90 46.85V55.28M380.00 47.56V55.98M384.10 48.26V56.68M388.20 48.96V57.38M392.30 49.66V58.09M396.40 50.48V58.91M400.50 51.30V59.72M404.60 51.94V60.37M408.70 52.59V61.01M412.80 52.97V61.45M416.90 53.35V61.89M421.00 53.55V62.15M425.10 53.76V62.42M429.20 53.52V62.18M433.30 53.29V61.95M437.40 52.82V61.48M441.50 53.52V62.18M445.60 54.34V63.00M449.70 55.16V63.82M453.80 55.75V64.40M457.90 56.33V64.99M462.00 56.80V65.46M466.10 57.27V65.93M470.20 57.68V66.33M474.30 58.09V66.74M478.40 58.47V67.18M482.50 58.85V67.62M486.60 59.11V67.94M490.70 59.37V68.27" stroke="#6eae5a" stroke-width="1.0" fill="none"/>
<path d="M289.40 51.30H295.90" stroke="#6eae5a" stroke-width="1.6"/>
<polyline points="293.90,51.30 298.00,48.96 302.10,46.62 306.20,46.50 310.30,46.39 314.40,46.62 318.50,46.85 322.60,47.15 326.70,47.44 330.80,47.67 334.90,47.91 339.00,48.26 343.10,48.61 347.20,48.90 351.30,49.19 355.40,49.43 359.50,49.66 363.60,49.90 367.70,50.13 371.80,50.60 375.90,51.07 380.00,51.77 384.10,52.47 388.20,53.17 392.30,53.87 396.40,54.69 400.50,55.51 404.60,56.16 408.70,56.80 412.80,57.21 416.90,57.62 421.00,57.85 425.10,58.09 429.20,57.85 433.30,57.62 437.40,57.15 441.50,57.85 445.60,58.67 449.70,59.49 453.80,60.08 457.90,60.66 462.00,61.13 466.10,61.60 470.20,62.01 474.30,62.42 478.40,62.82 482.50,63.23 486.60,63.53 490.70,63.82" fill="none" stroke="#1c3a1c" stroke-width="1.0"/>
<path d="M292.90 51.30L293.90 50.30L294.90 51.30L293.90 52.30Z" fill="#1c3a1c"/>
<path d="M297.00 48.96L298.00 47.96L299.00 48.96L298.00 49.96Z" fill="#1c3a1c"/>
<path d="M301.10 46.62L302.10 45.62L303.10 46.62L302.10 47.62Z" fill="#1c3a1c"/>
<path d="M305.20 46.50L306.20 45.50L307.20 46.50L306.20 47.50Z" fill="#1c3a1c"/>
<path d="M309.30 46.39L310.30 45.39L311.30 46.39L310.30 47.39Z" fill="#1c3a1c"/>
<path d="M313.40 46.62L314.40 45.62L315.40 46.62L314.40 47.62Z" fill="#1c3a1c"/>
<path d="M317.50 46.85L318.50 45.85L319.50 46.85L318.50 47.85Z" fill="#1c3a1c"/>
<path d="M321.60 47.15L322.60 46.15L323.60 47.15L322.60 48.15Z" fill="#1c3a1c"/>
<path d="M325.70 47.44L326.70 46.44L327.70 47.44L326.70 48.44Z" fill="#1c3a1c"/>
<path d="M329.80 47.67L330.80 46.67L331.80 47.67L330.80 48.67Z" fill="#1c3a1c"/>
<path d="M333.90 47.91L334.90 46.91L335.90 47.91L334.90 48.91Z" fill="#1c3a1c"/>
<path d="M338.00 48.26L339.00 47.26L340.00 48.26L339.00 49.26Z" fill="#1c3a1c"/>
<path d="M342.10 48.61L343.10 47.61L344.10 48.61L343.10 49.61Z" fill="#1c3a1c"/>
<path d="M346.20 48.90L347.20 47.90L348.20 48.90L347.20 49.90Z" fill="#1c3a1c"/>
<path d="M350.30 49.19L351.30 48.19L352.30 49.19L351.30 50.19Z" fill="#1c3a1c"/>
<path d="M354.40 49.43L355.40 48.43L356.40 49.43L355.40 50.43Z" fill="#1c3a1c"/>
<path d="M358.50 49.66L359.50 48.66L360.50 49.66L359.50 50.66Z" fill="#1c3a1c"/>
<path d="M362.60 49.90L363.60 48.90L364.60 49.90L363.60 50.90Z" fill="#1c3a1c"/>
<path d="M366.70 50.13L367.70 49.13L368.70 50.13L367.70 51.13Z" fill="#1c3a1c"/>
<path d="M370.80 50.60L371.80 49.60L372.80 50.60L371.80 51.60Z" fill="#1c3a1c"/>
<path d="M374.90 51.07L375.90 50.07L376.90 51.07L375.90 52.07Z" fill="#1c3a1c"/>
<path d="M379.00 51.77L380.00 50.77L381.00 51.77L380.00 52.77Z" fill="#1c3a1c"/>
<path d="M383.10 52.47L384.10 51.47L385.10 52.47L384.10 53.47Z" fill="#1c3a1c"/>
<path d="M387.20 53.17L388.20 52.17L389.20 53.17L388.20 54.17Z" fill="#1c3a1c"/>
<path d="M391.30 53.87L392.30 52.87L393.30 53.87L392.30 54.87Z" fill="#1c3a1c"/>
<path d="M395.40 54.69L396.40 53.69L397.40 54.69L396.40 55.69Z" fill="#1c3a1c"/>
<path d="M399.50 55.51L400.50 54.51L401.50 55.51L400.50 56.51Z" fill="#1c3a1c"/>
<path d="M403.60 56.16L404.60 55.16L405.60 56.16L404.60 57.16Z" fill="#1c3a1c"/>
<path d="M407.70 56.80L408.70 55.80L409.70 56.80L408.70 57.80Z" fill="#1c3a1c"/>
<path d="M411.80 57.21L412.80 56.21L413.80 57.21L412.80 58.21Z" fill="#1c3a1c"/>
<path d="M415.90 57.62L416.90 56.62L417.90 57.62L416.90 58.62Z" fill="#1c3a1c"/>
<path d="M420.00 57.85L421.00 56.85L422.00 57.85L421.00 58.85Z" fill="#1c3a1c"/>
<path d="M424.10 58.09L425.10 57.09L426.10 58.09L425.10 59.09Z" fill="#1c3a1c"/>
<path d="M428.20 57.85L429.20 56.85L430.20 57.85L429.20 58.85Z" fill="#1c3a1c"/>
<path d="M432.30 57.62L433.30 56.62L434.30 57.62L433.30 58.62Z" fill="#1c3a1c"/>
<path d="M436.40 57.15L437.40 56.15L438.40 57.15L437.40 58.15Z" fill="#1c3a1c"/>
<path d="M440.50 57.85L441.50 56.85L442.50 57.85L441.50 58.85Z" fill="#1c3a1c"/>
<path d="M444.60 58.67L445.60 57.67L446.60 58.67L445.60 59.67Z" fill="#1c3a1c"/>
<path d="M448.70 59.49L449.70 58.49L450.70 59.49L449.70 60.49Z" fill="#1c3a1c"/>
<path d="M452.80 60.08L453.80 59.08L454.80 60.08L453.80 61.08Z" fill="#1c3a1c"/>
<path d="M456.90 60.66L457.90 59.66L458.90 60.66L457.90 61.66Z" fill="#1c3a1c"/>
<path d="M461.00 61.13L462.00 60.13L463.00 61.13L462.00 62.13Z" fill="#1c3a1c"/>
<path d="M465.10 61.60L466.10 60.60L467.10 61.60L466.10 62.60Z" fill="#1c3a1c"/>
<path d="M469.20 62.01L470.20 61.01L471.20 62.01L470.20 63.01Z" fill="#1c3a1c"/>
<path d="M473.30 62.42L474.30 61.42L475.30 62.42L474.30 63.42Z" fill="#1c3a1c"/>
<path d="M477.40 62.82L478.40 61.82L479.40 62.82L478.40 63.82Z" fill="#1c3a1c"/>
<path d="M481.50 63.23L482.50 62.23L483.50 63.23L482.50 64.23Z" fill="#1c3a1c"/>
<path d="M485.60 63.53L486.60 62.53L487.60 63.53L486.60 64.53Z" fill="#1c3a1c"/>
<path d="M489.70 63.82L490.70 62.82L491.70 63.82L490.70 64.82Z" fill="#1c3a1c"/>
<line x1="390.70" y1="131.30" x2="399.00" y2="131.30" stroke="#1c3a1c" stroke-width="1.2"/>
<ellipse cx="394.9" cy="131.30" rx="1.9" ry="1.7" fill="#6a9a58" stroke="#1c3a1c" stroke-width="0.6"/>
<text x="402.60" y="134.00" font-size="7.4" text-anchor="start" fill="#222" font-weight="normal" stroke="#222" stroke-width="0.12" textLength="48.80" lengthAdjust="spacingAndGlyphs">Effectors Alone</text>
<line x1="390.70" y1="141.60" x2="399.00" y2="141.60" stroke="#5a3200" stroke-width="1.2"/>
<ellipse cx="394.9" cy="141.60" rx="1.9" ry="1.7" fill="#c09838" stroke="#5a3200" stroke-width="0.6"/>
<text x="402.60" y="144.30" font-size="7.4" text-anchor="start" fill="#222" font-weight="normal" stroke="#222" stroke-width="0.12" textLength="65.70" lengthAdjust="spacingAndGlyphs">Effectors Plus CD16</text>
<line x1="390.70" y1="151.90" x2="399.00" y2="151.90" stroke="#1e2c58" stroke-width="1.2"/>
<ellipse cx="394.9" cy="151.90" rx="1.9" ry="1.7" fill="#34466e" stroke="#1e2c58" stroke-width="0.6"/>
<text x="402.60" y="154.60" font-size="7.4" text-anchor="start" fill="#222" font-weight="normal" stroke="#222" stroke-width="0.12" textLength="63.20" lengthAdjust="spacingAndGlyphs">Effectors Plus IL-15</text>
<line x1="390.70" y1="162.20" x2="399.00" y2="162.20" stroke="#6a0020" stroke-width="1.2"/>
<ellipse cx="394.9" cy="162.20" rx="1.9" ry="1.7" fill="#7a2038" stroke="#6a0020" stroke-width="0.6"/>
<text x="402.60" y="164.90" font-size="7.4" text-anchor="start" fill="#222" font-weight="normal" stroke="#222" stroke-width="0.12" textLength="72.40" lengthAdjust="spacingAndGlyphs">Effectors Plus 161533</text>
<text x="7.00" y="223.00" font-size="11" text-anchor="start" fill="#000" font-weight="bold" stroke="#000" stroke-width="0.1">C</text>
<line x1="37.60" y1="243.20" x2="37.60" y2="338.00" stroke="#111" stroke-width="1.6"/>
<line x1="34.80" y1="337.55" x2="173.70" y2="337.55" stroke="#111" stroke-width="1.6"/>
<line x1="34.40" y1="337.40" x2="37.60" y2="337.40" stroke="#111" stroke-width="1.45"/>
<text x="26.60" y="340.00" font-size="7.2" text-anchor="start" fill="#222" font-weight="normal" stroke="#222" stroke-width="0.1" textLength="4.20" lengthAdjust="spacingAndGlyphs">0</text>
<line x1="34.40" y1="319.20" x2="37.60" y2="319.20" stroke="#111" stroke-width="1.45"/>
<text x="26.60" y="321.80" font-size="7.2" text-anchor="start" fill="#222" font-weight="normal" stroke="#222" stroke-width="0.1" textLength="4.20" lengthAdjust="spacingAndGlyphs">5</text>
<line x1="34.40" y1="301.00" x2="37.60" y2="301.00" stroke="#111" stroke-width="1.45"/>
<text x="22.10" y="303.60" font-size="7.2" text-anchor="start" fill="#222" font-weight="normal" stroke="#222" stroke-width="0.1" textLength="8.70" lengthAdjust="spacingAndGlyphs">10</text>
<line x1="34.40" y1="282.80" x2="37.60" y2="282.80" stroke="#111" stroke-width="1.45"/>
<text x="22.10" y="285.40" font-size="7.2" text-anchor="start" fill="#222" font-weight="normal" stroke="#222" stroke-width="0.1" textLength="8.70" lengthAdjust="spacingAndGlyphs">15</text>
<line x1="34.40" y1="264.60" x2="37.60" y2="264.60" stroke="#111" stroke-width="1.45"/>
<text x="22.10" y="267.20" font-size="7.2" text-anchor="start" fill="#222" font-weight="normal" stroke="#222" stroke-width="0.1" textLength="8.70" lengthAdjust="spacingAndGlyphs">20</text>
<line x1="34.40" y1="246.40" x2="37.60" y2="246.40" stroke="#111" stroke-width="1.45"/>
<text x="22.10" y="249.00" font-size="7.2" text-anchor="start" fill="#222" font-weight="normal" stroke="#222" stroke-width="0.1" textLength="8.70" lengthAdjust="spacingAndGlyphs">25</text>
<line x1="58.30" y1="320.29" x2="58.30" y2="318.47" stroke="#111" stroke-width="1.1"/>
<line x1="52.80" y1="318.47" x2="63.80" y2="318.47" stroke="#111" stroke-width="1.1"/>
<rect x="47.80" y="320.29" width="21.00" height="17.11" fill="#552966"/>
<line x1="58.30" y1="337.40" x2="58.30" y2="340.30" stroke="#111" stroke-width="1.6"/>
<text x="53.20" y="350.70" font-size="7.9" text-anchor="start" fill="#222" font-weight="normal" stroke="#222" stroke-width="0.1" textLength="10.20" lengthAdjust="spacingAndGlyphs">NT</text>
<line x1="89.60" y1="310.10" x2="89.60" y2="300.64" stroke="#111" stroke-width="1.1"/>
<line x1="84.10" y1="300.64" x2="95.10" y2="300.64" stroke="#111" stroke-width="1.1"/>
<rect x="79.10" y="310.10" width="21.00" height="27.30" fill="#da8a17"/>
<line x1="89.60" y1="337.40" x2="89.60" y2="340.30" stroke="#111" stroke-width="1.6"/>
<text x="78.70" y="350.70" font-size="7.9" text-anchor="start" fill="#222" font-weight="normal" stroke="#222" stroke-width="0.1" textLength="21.80" lengthAdjust="spacingAndGlyphs">CD16</text>
<line x1="121.40" y1="308.64" x2="121.40" y2="305.37" stroke="#111" stroke-width="1.1"/>
<line x1="115.90" y1="305.37" x2="126.90" y2="305.37" stroke="#111" stroke-width="1.1"/>
<rect x="110.90" y="308.64" width="21.00" height="28.76" fill="#2e4c7a"/>
<line x1="121.40" y1="337.40" x2="121.40" y2="340.30" stroke="#111" stroke-width="1.6"/>
<text x="112.40" y="350.70" font-size="7.9" text-anchor="start" fill="#222" font-weight="normal" stroke="#222" stroke-width="0.1" textLength="18.00" lengthAdjust="spacingAndGlyphs">IL-15</text>
<line x1="152.70" y1="267.88" x2="152.70" y2="261.32" stroke="#111" stroke-width="1.1"/>
<line x1="147.20" y1="261.32" x2="158.20" y2="261.32" stroke="#111" stroke-width="1.1"/>
<rect x="142.20" y="267.88" width="21.00" height="69.52" fill="#a5002a"/>
<line x1="152.70" y1="337.40" x2="152.70" y2="340.30" stroke="#111" stroke-width="1.6"/>
<text x="138.85" y="350.70" font-size="7.9" text-anchor="start" fill="#222" font-weight="normal" stroke="#222" stroke-width="0.1" textLength="27.70" lengthAdjust="spacingAndGlyphs">161533</text>
<path d="M57.3 290.8V237.7H152.8V242.0" stroke="#111" stroke-width="1.1" fill="none"/>
<path d="M88.5 290.0V245.9H152.8V250.2" stroke="#111" stroke-width="1.1" fill="none"/>
<path d="M119.8 289.0V254.2H152.8V258.0" stroke="#111" stroke-width="1.1" fill="none"/>
<circle cx="98.90" cy="233.8" r="0.95" fill="#222"/>
<circle cx="101.97" cy="233.8" r="0.95" fill="#222"/>
<circle cx="105.03" cy="233.8" r="0.95" fill="#222"/>
<circle cx="108.10" cy="233.8" r="0.95" fill="#222"/>
<circle cx="112.00" cy="243.2" r="0.95" fill="#222"/>
<circle cx="115.17" cy="243.2" r="0.95" fill="#222"/>
<circle cx="118.33" cy="243.2" r="0.95" fill="#222"/>
<circle cx="121.50" cy="243.2" r="0.95" fill="#222"/>
<circle cx="130.50" cy="250.8" r="0.95" fill="#222"/>
<circle cx="133.60" cy="250.8" r="0.95" fill="#222"/>
<circle cx="136.70" cy="250.8" r="0.95" fill="#222"/>
<circle cx="139.80" cy="250.8" r="0.95" fill="#222"/>
<g transform="translate(16.0,322.3) rotate(-90)"><text x="0" y="0" font-size="9.0" fill="#222" font-weight="bold" textLength="60.7" lengthAdjust="spacingAndGlyphs">CD107a+ NK cells %</text></g>
<line x1="214.60" y1="249.50" x2="214.60" y2="338.00" stroke="#111" stroke-width="1.6"/>
<line x1="211.80" y1="337.55" x2="340.80" y2="337.55" stroke="#111" stroke-width="1.6"/>
<line x1="211.40" y1="337.40" x2="214.60" y2="337.40" stroke="#111" stroke-width="1.45"/>
<text x="203.70" y="340.00" font-size="7.2" text-anchor="start" fill="#222" font-weight="normal" stroke="#222" stroke-width="0.1" textLength="4.20" lengthAdjust="spacingAndGlyphs">0</text>
<line x1="211.40" y1="316.20" x2="214.60" y2="316.20" stroke="#111" stroke-width="1.45"/>
<text x="203.70" y="318.80" font-size="7.2" text-anchor="start" fill="#222" font-weight="normal" stroke="#222" stroke-width="0.1" textLength="4.20" lengthAdjust="spacingAndGlyphs">2</text>
<line x1="211.40" y1="295.00" x2="214.60" y2="295.00" stroke="#111" stroke-width="1.45"/>
<text x="203.70" y="297.60" font-size="7.2" text-anchor="start" fill="#222" font-weight="normal" stroke="#222" stroke-width="0.1" textLength="4.20" lengthAdjust="spacingAndGlyphs">4</text>
<line x1="211.40" y1="273.80" x2="214.60" y2="273.80" stroke="#111" stroke-width="1.45"/>
<text x="203.70" y="276.40" font-size="7.2" text-anchor="start" fill="#222" font-weight="normal" stroke="#222" stroke-width="0.1" textLength="4.20" lengthAdjust="spacingAndGlyphs">6</text>
<line x1="211.40" y1="252.60" x2="214.60" y2="252.60" stroke="#111" stroke-width="1.45"/>
<text x="203.70" y="255.20" font-size="7.2" text-anchor="start" fill="#222" font-weight="normal" stroke="#222" stroke-width="0.1" textLength="4.20" lengthAdjust="spacingAndGlyphs">8</text>
<line x1="234.00" y1="298.39" x2="234.00" y2="294.89" stroke="#111" stroke-width="1.1"/>
<line x1="228.50" y1="294.89" x2="239.50" y2="294.89" stroke="#111" stroke-width="1.1"/>
<rect x="224.30" y="298.39" width="19.40" height="39.01" fill="#552966"/>
<line x1="234.00" y1="337.40" x2="234.00" y2="340.30" stroke="#111" stroke-width="1.6"/>
<text x="228.90" y="350.70" font-size="7.9" text-anchor="start" fill="#222" font-weight="normal" stroke="#222" stroke-width="0.1" textLength="10.20" lengthAdjust="spacingAndGlyphs">NT</text>
<line x1="263.00" y1="297.12" x2="263.00" y2="294.26" stroke="#111" stroke-width="1.1"/>
<line x1="257.50" y1="294.26" x2="268.50" y2="294.26" stroke="#111" stroke-width="1.1"/>
<rect x="253.30" y="297.12" width="19.40" height="40.28" fill="#da8a17"/>
<line x1="263.00" y1="337.40" x2="263.00" y2="340.30" stroke="#111" stroke-width="1.6"/>
<text x="252.10" y="350.70" font-size="7.9" text-anchor="start" fill="#222" font-weight="normal" stroke="#222" stroke-width="0.1" textLength="21.80" lengthAdjust="spacingAndGlyphs">CD16</text>
<line x1="292.00" y1="296.06" x2="292.00" y2="294.26" stroke="#111" stroke-width="1.1"/>
<line x1="286.50" y1="294.26" x2="297.50" y2="294.26" stroke="#111" stroke-width="1.1"/>
<rect x="282.30" y="296.06" width="19.40" height="41.34" fill="#2e4c7a"/>
<line x1="292.00" y1="337.40" x2="292.00" y2="340.30" stroke="#111" stroke-width="1.6"/>
<text x="283.00" y="350.70" font-size="7.9" text-anchor="start" fill="#222" font-weight="normal" stroke="#222" stroke-width="0.1" textLength="18.00" lengthAdjust="spacingAndGlyphs">IL-15</text>
<line x1="320.60" y1="264.26" x2="320.60" y2="257.90" stroke="#111" stroke-width="1.1"/>
<line x1="315.10" y1="257.90" x2="326.10" y2="257.90" stroke="#111" stroke-width="1.1"/>
<rect x="310.90" y="264.26" width="19.40" height="73.14" fill="#a5002a"/>
<line x1="320.60" y1="337.40" x2="320.60" y2="340.30" stroke="#111" stroke-width="1.6"/>
<text x="306.75" y="350.70" font-size="7.9" text-anchor="start" fill="#222" font-weight="normal" stroke="#222" stroke-width="0.1" textLength="27.70" lengthAdjust="spacingAndGlyphs">161533</text>
<path d="M232.5 285.0V236.9H320.7V241.4" stroke="#111" stroke-width="1.1" fill="none"/>
<path d="M262.0 285.0V244.9H320.7V248.9" stroke="#111" stroke-width="1.1" fill="none"/>
<path d="M291.0 285.0V251.8H320.7V255.3" stroke="#111" stroke-width="1.1" fill="none"/>
<circle cx="270.60" cy="232.8" r="0.95" fill="#222"/>
<circle cx="273.93" cy="232.8" r="0.95" fill="#222"/>
<circle cx="277.27" cy="232.8" r="0.95" fill="#222"/>
<circle cx="280.60" cy="232.8" r="0.95" fill="#222"/>
<circle cx="282.20" cy="241.8" r="0.95" fill="#222"/>
<circle cx="285.57" cy="241.8" r="0.95" fill="#222"/>
<circle cx="288.93" cy="241.8" r="0.95" fill="#222"/>
<circle cx="292.30" cy="241.8" r="0.95" fill="#222"/>
<circle cx="299.50" cy="248.7" r="0.95" fill="#222"/>
<circle cx="302.87" cy="248.7" r="0.95" fill="#222"/>
<circle cx="306.23" cy="248.7" r="0.95" fill="#222"/>
<circle cx="309.60" cy="248.7" r="0.95" fill="#222"/>
<g transform="translate(197.4,320.4) rotate(-90)"><text x="0" y="0" font-size="8.8" fill="#222" font-weight="bold" textLength="54.1" lengthAdjust="spacingAndGlyphs">IFNγ+ NK cells %</text></g>
<line x1="381.60" y1="248.90" x2="381.60" y2="338.00" stroke="#111" stroke-width="1.6"/>
<line x1="378.80" y1="337.55" x2="512.80" y2="337.55" stroke="#111" stroke-width="1.6"/>
<line x1="378.40" y1="337.40" x2="381.60" y2="337.40" stroke="#111" stroke-width="1.45"/>
<text x="371.20" y="340.00" font-size="7.2" text-anchor="start" fill="#222" font-weight="normal" stroke="#222" stroke-width="0.1" textLength="4.20" lengthAdjust="spacingAndGlyphs">0</text>
<line x1="378.40" y1="308.80" x2="381.60" y2="308.80" stroke="#111" stroke-width="1.45"/>
<text x="371.20" y="311.40" font-size="7.2" text-anchor="start" fill="#222" font-weight="normal" stroke="#222" stroke-width="0.1" textLength="4.20" lengthAdjust="spacingAndGlyphs">2</text>
<line x1="378.40" y1="280.20" x2="381.60" y2="280.20" stroke="#111" stroke-width="1.45"/>
<text x="371.20" y="282.80" font-size="7.2" text-anchor="start" fill="#222" font-weight="normal" stroke="#222" stroke-width="0.1" textLength="4.20" lengthAdjust="spacingAndGlyphs">4</text>
<line x1="378.40" y1="251.60" x2="381.60" y2="251.60" stroke="#111" stroke-width="1.45"/>
<text x="371.20" y="254.20" font-size="7.2" text-anchor="start" fill="#222" font-weight="normal" stroke="#222" stroke-width="0.1" textLength="4.20" lengthAdjust="spacingAndGlyphs">6</text>
<line x1="402.20" y1="318.81" x2="402.20" y2="316.52" stroke="#111" stroke-width="1.1"/>
<line x1="396.70" y1="316.52" x2="407.70" y2="316.52" stroke="#111" stroke-width="1.1"/>
<rect x="392.00" y="318.81" width="20.40" height="18.59" fill="#552966"/>
<line x1="402.20" y1="337.40" x2="402.20" y2="340.30" stroke="#111" stroke-width="1.6"/>
<text x="397.10" y="350.70" font-size="7.9" text-anchor="start" fill="#222" font-weight="normal" stroke="#222" stroke-width="0.1" textLength="10.20" lengthAdjust="spacingAndGlyphs">NT</text>
<line x1="432.30" y1="318.09" x2="432.30" y2="316.09" stroke="#111" stroke-width="1.1"/>
<line x1="426.80" y1="316.09" x2="437.80" y2="316.09" stroke="#111" stroke-width="1.1"/>
<rect x="422.10" y="318.09" width="20.40" height="19.31" fill="#da8a17"/>
<line x1="432.30" y1="337.40" x2="432.30" y2="340.30" stroke="#111" stroke-width="1.6"/>
<text x="421.40" y="350.70" font-size="7.9" text-anchor="start" fill="#222" font-weight="normal" stroke="#222" stroke-width="0.1" textLength="21.80" lengthAdjust="spacingAndGlyphs">CD16</text>
<line x1="462.30" y1="315.95" x2="462.30" y2="313.95" stroke="#111" stroke-width="1.1"/>
<line x1="456.80" y1="313.95" x2="467.80" y2="313.95" stroke="#111" stroke-width="1.1"/>
<rect x="452.10" y="315.95" width="20.40" height="21.45" fill="#2e4c7a"/>
<line x1="462.30" y1="337.40" x2="462.30" y2="340.30" stroke="#111" stroke-width="1.6"/>
<text x="453.30" y="350.70" font-size="7.9" text-anchor="start" fill="#222" font-weight="normal" stroke="#222" stroke-width="0.1" textLength="18.00" lengthAdjust="spacingAndGlyphs">IL-15</text>
<line x1="492.30" y1="272.62" x2="492.30" y2="267.33" stroke="#111" stroke-width="1.1"/>
<line x1="486.80" y1="267.33" x2="497.80" y2="267.33" stroke="#111" stroke-width="1.1"/>
<rect x="482.10" y="272.62" width="20.40" height="64.78" fill="#a5002a"/>
<line x1="492.30" y1="337.40" x2="492.30" y2="340.30" stroke="#111" stroke-width="1.6"/>
<text x="478.45" y="350.70" font-size="7.9" text-anchor="start" fill="#222" font-weight="normal" stroke="#222" stroke-width="0.1" textLength="27.70" lengthAdjust="spacingAndGlyphs">161533</text>
<path d="M401.5 291.1V239.8H492.5V244.0" stroke="#111" stroke-width="1.1" fill="none"/>
<path d="M431.4 290.7V248.5H492.5V252.7" stroke="#111" stroke-width="1.1" fill="none"/>
<path d="M460.8 290.2V255.0H492.5V258.7" stroke="#111" stroke-width="1.1" fill="none"/>
<circle cx="439.20" cy="236.2" r="0.95" fill="#222"/>
<circle cx="442.70" cy="236.2" r="0.95" fill="#222"/>
<circle cx="446.20" cy="236.2" r="0.95" fill="#222"/>
<circle cx="449.70" cy="236.2" r="0.95" fill="#222"/>
<circle cx="452.20" cy="245.2" r="0.95" fill="#222"/>
<circle cx="455.57" cy="245.2" r="0.95" fill="#222"/>
<circle cx="458.93" cy="245.2" r="0.95" fill="#222"/>
<circle cx="462.30" cy="245.2" r="0.95" fill="#222"/>
<circle cx="470.70" cy="252.2" r="0.95" fill="#222"/>
<circle cx="474.07" cy="252.2" r="0.95" fill="#222"/>
<circle cx="477.43" cy="252.2" r="0.95" fill="#222"/>
<circle cx="480.80" cy="252.2" r="0.95" fill="#222"/>
<g transform="translate(364.9,320.8) rotate(-90)"><text x="0" y="0" font-size="9.0" fill="#222" font-weight="bold" textLength="56.4" lengthAdjust="spacingAndGlyphs">TNFα+ NK cells %</text></g>
<rect x="0.5" y="0.5" width="519" height="357" fill="none" stroke="#000" stroke-width="1.6"/>
</svg></body></html>
